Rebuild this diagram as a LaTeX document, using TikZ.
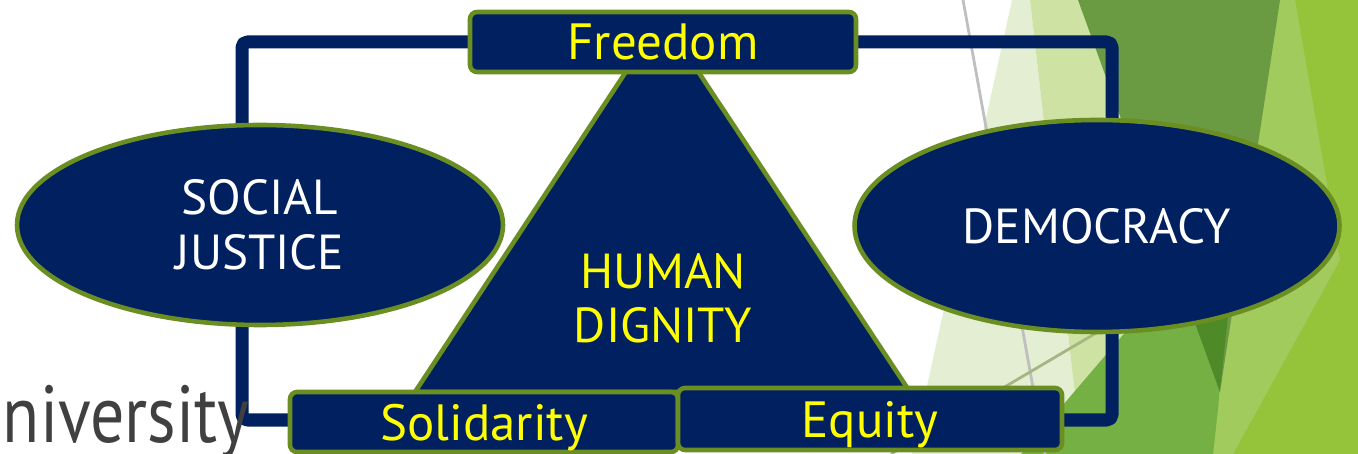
\documentclass[tikz,border=0pt]{standalone}
\usepackage{fontspec}
\setmainfont{PT Sans}
\usetikzlibrary{shapes.geometric}
\definecolor{azulosc}{HTML}{002060}
\definecolor{verdeb}{HTML}{6B8E23}
\definecolor{amarillo}{HTML}{FFFF00}
\definecolor{grisu}{HTML}{404040}
\definecolor{vclaro}{HTML}{E3EED3}
\definecolor{vpalido}{HTML}{CEE3A3}
\definecolor{vmedio}{HTML}{74B043}
\definecolor{voscuro}{HTML}{6A9A41}
\definecolor{vprofundo}{HTML}{4E8A27}
\definecolor{vlima}{HTML}{95C43B}
\definecolor{vtira}{HTML}{A2CB5D}
\pgfdeclarelayer{fondo}
\pgfdeclarelayer{lineas}
\pgfsetlayers{fondo,lineas,main}
\tikzstyle{enlace}=[draw=azulosc, line width=3.7pt, line join=round, rounded corners=1.5pt]
\tikzstyle{caja}=[draw=verdeb, fill=azulosc, line width=1.3pt, rounded corners=2pt, inner sep=0pt, minimum height=0.6cm, text depth=0pt, text=amarillo, font=\fontsize{14.5}{16}\selectfont]
\tikzstyle{elipse}=[ellipse, draw=verdeb, fill=azulosc, line width=1.3pt, inner sep=0pt, text=white, align=center, font=\fontsize{14}{15.6}\selectfont]

\begin{document}
\begin{tikzpicture}
          \useasboundingbox (0,0) rectangle (13.58,-4.54);
          %fondo
          \begin{pgfonlayer}{fondo}
            \fill[vlima] (12.85,0) -- (13.58,0) -- (13.58,-4.54) -- (12.10,-4.54) -- cycle;
            \fill[vtira] (12.63,0) -- (12.95,0) -- (13.40,-2.60) -- (12.33,-4.54) -- (12.13,-4.54) -- cycle;
            \fill[vclaro] (10.12,0) -- (10.30,0) -- (10.75,-3.95) -- (10.21,-4.54) -- (9.12,-4.54) -- cycle;
            \fill[vpalido] (10.30,0) -- (10.90,0) -- (11.80,-2.72) -- (10.75,-3.95) -- cycle;
            \fill[vmedio] (10.21,-4.54) -- (12.41,-1.97) -- (12.13,-4.54) -- cycle;
            \fill[voscuro] (10.78,0) -- (12.80,0) -- (12.20,-3.92) -- cycle;
            \begin{scope}
              \clip (10.21,-4.54) -- (12.41,-1.97) -- (12.13,-4.54) -- cycle;
              \fill[vprofundo] (10.78,0) -- (12.80,0) -- (12.20,-3.92) -- cycle;
            \end{scope}
            \draw[black!25, line width=0.8pt] (9.63,0) -- (10.45,-4.54);
            \draw[black!20!vpalido, line width=0.8pt] (8.91,-4.54) -- (11.30,-3.13);
          \end{pgfonlayer}
          %logo
          \node[anchor=base east, inner sep=0pt, text=grisu, font=\fontsize{23}{25}\selectfont] (logo) at (2.50,-4.43) {\scalebox{0.84}[1]{university}};
          %triangulo
          \draw[draw=verdeb, fill=azulosc, line width=1.3pt, line join=round] (6.62,-0.17) -- (4.15,-3.92) -- (9.10,-3.92) -- cycle;
          \node[text=amarillo, align=center, font=\fontsize{14}{15.4}\selectfont] (dignidad) at (6.63,-2.98) {HUMAN\\DIGNITY};
          %elipses
          \node[elipse, minimum width=4.86cm, minimum height=2.0cm] (social) at (2.60,-2.25) {SOCIAL\\JUSTICE};
          \node[elipse, minimum width=4.85cm, minimum height=2.12cm] (democ) at (10.97,-2.26) {DEMOCRACY};
          %cajas
          \node[caja, minimum width=3.86cm] (freedom) at (6.63,-0.42) {Freedom};
          \node[caja, minimum width=3.88cm] (solid) at (4.84,-4.22) {Solidarity};
          \node[caja, minimum width=3.84cm, minimum height=0.62cm] (equity) at (8.70,-4.19) {Equity};
          %enlaces
          \coordinate (esqa) at (2.42,-0.42);
          \coordinate (esqb) at (11.12,-0.42);
          \coordinate (esqc) at (2.42,-4.20);
          \coordinate (esqd) at (11.12,-4.20);
          \begin{pgfonlayer}{lineas}
            \draw[enlace] (freedom.center) -- (esqa) -- (esqc) -- (esqc -| solid.center);
            \draw[enlace] (freedom.center) -- (esqb) -- (esqd) -- (esqd -| equity.center);
          \end{pgfonlayer}
        \end{tikzpicture}
\end{document}
